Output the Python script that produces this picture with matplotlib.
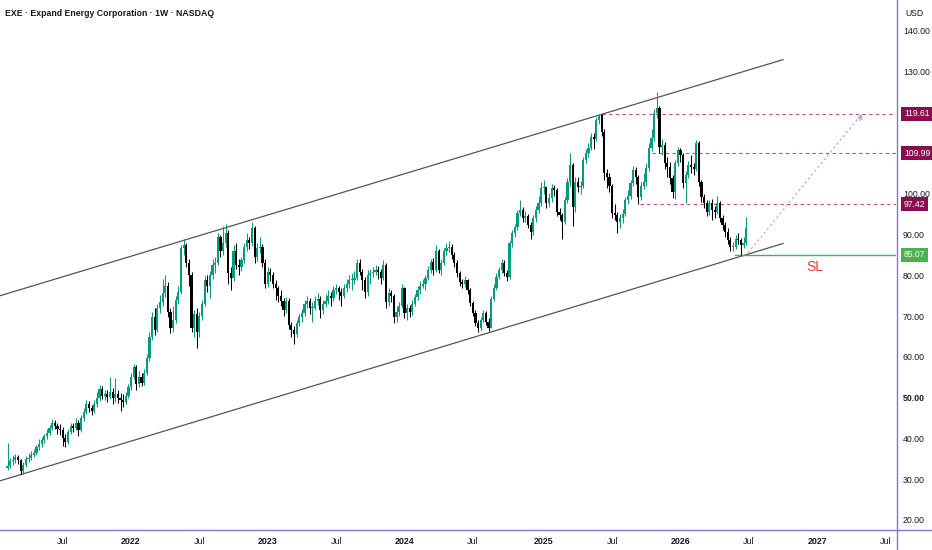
import numpy as np
import pandas as pd
import matplotlib
matplotlib.use('Agg')
import matplotlib.pyplot as plt
import matplotlib.dates as mdates
from matplotlib import transforms
from matplotlib.lines import Line2D

plt.rcParams['font.family'] = ['Liberation Sans', 'DejaVu Sans']

### DATA (weekly candles) ###
week_start = '2021-02-08'

opens = [32.8, 33.3, 34.5, 34.8, 35.5, 34.6, 32.0, 33.5, 35.0, 35.2,
         36.0, 36.5, 37.8, 38.7, 39.5, 40.5, 41.4, 42.5, 43.9, 43.0,
         42.2, 42.0, 40.0, 39.2, 41.5, 43.0, 42.5, 43.9, 42.0, 45.0,
         46.5, 48.5, 47.5, 46.8, 48.5, 49.8, 52.2, 50.5, 51.0, 50.2,
         51.5, 49.8, 51.0, 50.0, 49.5, 49.0, 50.5, 52.5, 55.0, 57.4,
         53.4, 55.0, 53.7, 56.0, 59.8, 65.0, 69.7, 66.5, 71.9, 73.4,
         75.6, 77.5, 71.0, 67.0, 69.0, 74.0, 76.0, 86.6, 87.4, 83.0,
         80.0, 67.2, 70.6,
         66.0, 70.0, 73.0, 78.8, 77.5, 80.0, 82.5, 83.0, 89.4, 86.0,
         88.0, 90.3, 80.5, 79.3, 86.0, 82.5, 82.0, 83.7, 86.9, 88.6,
         88.0, 91.5, 84.4, 86.6, 87.0, 83.0, 78.0, 80.7, 80.0, 78.0,
         76.8, 75.0, 73.8, 71.4, 73.8, 67.7, 66.5, 65.7, 68.2, 69.7,
         70.7, 73.0, 73.8, 71.9, 72.1, 73.8, 74.3, 71.4, 73.0, 73.8,
         75.0, 74.5, 76.3, 76.8, 75.8, 75.0, 76.8, 78.0, 78.8, 78.8,
         79.3, 83.0, 80.7, 78.8, 75.8, 80.0, 80.5, 80.7, 81.2, 80.7,
         79.3, 82.5,
         73.4, 75.6, 75.0, 69.7, 71.0, 72.5, 76.8, 70.7, 72.0, 71.0,
         73.0, 74.6, 76.3, 77.5, 78.0, 79.3, 81.2, 83.2, 81.2, 86.0,
         81.2, 83.0, 86.0, 86.6, 87.0, 85.0, 83.0, 80.5, 78.3, 78.0,
         78.8, 76.3, 73.1, 70.7, 68.4, 67.0, 69.0, 70.7, 68.5, 67.2,
         74.3, 77.0, 79.5, 81.2, 83.0, 80.5, 79.5, 87.9, 90.3, 91.8,
         95.2, 96.0, 94.0, 94.5, 92.3, 90.6, 94.0, 96.0, 97.7, 101.4,
         101.6, 97.7, 99.0, 101.4, 101.0, 95.5, 94.7, 93.0, 98.4, 102.9,
         107.0, 96.8, 103.0,
         101.6, 102.0, 108.3, 110.0, 111.2, 113.9, 113.5, 118.0, 119.3, 115.2,
         105.0, 104.0, 102.0, 95.2, 94.7, 93.0, 94.0, 95.0, 98.4, 99.5,
         102.6, 105.8, 104.0, 99.2, 102.0, 102.9, 106.3, 111.2, 113.7, 119.8,
         121.0, 111.5, 112.0, 107.5, 106.5, 103.8, 100.4, 107.5, 110.7, 109.5,
         102.6, 104.6, 107.0, 106.5, 106.0, 112.4, 102.9, 99.2, 97.7, 95.5,
         97.7, 96.0, 95.5, 97.7, 94.0, 92.3, 90.6, 88.6, 86.9, 87.0,
         89.0, 88.6, 87.4, 88.0]

closes = [33.3, 34.5, 34.8, 35.5, 34.6, 32.0, 33.5, 35.0, 35.2, 36.0,
          36.5, 37.8, 38.7, 39.5, 40.5, 41.4, 42.5, 43.9, 43.0, 42.2,
          42.0, 40.0, 39.2, 41.5, 43.0, 42.5, 43.9, 42.0, 45.0, 46.5,
          48.5, 47.5, 46.8, 48.5, 49.8, 52.2, 50.5, 51.0, 50.2, 51.5,
          49.8, 51.0, 50.0, 49.5, 49.0, 50.5, 52.5, 55.0, 57.4, 53.4,
          55.0, 53.7, 56.0, 59.8, 65.0, 69.7, 66.5, 71.9, 73.4, 75.6,
          77.5, 71.0, 67.0, 69.0, 74.0, 76.0, 86.6, 87.4, 83.0, 80.0,
          67.2, 70.6, 66.0,
          70.0, 73.0, 78.8, 77.5, 80.0, 82.5, 83.0, 89.4, 86.0, 88.0,
          90.3, 80.5, 79.3, 86.0, 82.5, 82.0, 83.7, 86.9, 88.6, 88.0,
          91.5, 84.4, 86.6, 87.0, 83.0, 78.0, 80.7, 80.0, 78.0, 76.8,
          75.0, 73.8, 71.4, 73.8, 67.7, 66.5, 65.7, 68.2, 69.7, 70.7,
          73.0, 73.8, 71.9, 72.1, 73.8, 74.3, 71.4, 73.0, 73.8, 75.0,
          74.5, 76.3, 76.8, 75.8, 75.0, 76.8, 78.0, 78.8, 78.8, 79.3,
          83.0, 80.7, 78.8, 75.8, 80.0, 80.5, 80.7, 81.2, 80.7, 79.3,
          82.5, 73.4,
          75.6, 75.0, 69.7, 71.0, 72.5, 76.8, 70.7, 72.0, 71.0, 73.0,
          74.6, 76.3, 77.5, 78.0, 79.3, 81.2, 83.2, 81.2, 86.0, 81.2,
          83.0, 86.0, 86.6, 87.0, 85.0, 83.0, 80.5, 78.3, 78.0, 78.8,
          76.3, 73.1, 70.7, 68.4, 67.0, 69.0, 70.7, 68.5, 67.2, 74.3,
          77.0, 79.5, 81.2, 83.0, 80.5, 79.5, 87.9, 90.3, 91.8, 95.2,
          96.0, 94.0, 94.5, 92.3, 90.6, 94.0, 96.0, 97.7, 101.4, 101.6,
          97.7, 99.0, 101.4, 101.0, 95.5, 94.7, 93.0, 98.4, 102.9, 107.0,
          96.8, 103.0, 101.6,
          102.0, 108.3, 110.0, 111.2, 113.9, 113.5, 118.0, 119.3, 115.2, 105.0,
          104.0, 102.0, 95.2, 94.7, 93.0, 94.0, 95.0, 98.4, 99.5, 102.6,
          105.8, 104.0, 99.2, 102.0, 102.9, 106.3, 111.2, 113.7, 119.8, 121.0,
          111.5, 112.0, 107.5, 106.5, 103.8, 100.4, 107.5, 110.7, 109.5, 102.6,
          104.6, 107.0, 106.5, 106.0, 112.4, 102.9, 99.2, 97.7, 95.5, 97.7,
          96.0, 95.5, 97.7, 94.0, 92.3, 90.6, 88.6, 86.9, 87.0, 89.0,
          88.6, 87.4, 88.0, 91.5]

highs = [39.0, 35.2, 36.0, 36.2, 36.0, 35.0, 34.2, 35.6, 36.5, 36.8,
         37.5, 38.5, 39.8, 40.4, 41.2, 42.3, 43.2, 44.8, 44.5, 43.8,
         43.5, 42.8, 41.0, 42.2, 43.8, 43.9, 45.0, 44.5, 45.8, 47.5,
         49.5, 49.2, 48.3, 49.4, 51.5, 53.0, 52.8, 52.0, 51.8, 55.0,
         52.3, 54.8, 51.8, 51.2, 50.8, 51.4, 53.4, 56.0, 58.2, 58.0,
         56.5, 56.0, 57.0, 60.8, 66.0, 71.0, 72.0, 73.0, 75.2, 79.0,
         80.0, 78.4, 72.0, 72.5, 75.0, 77.5, 87.5, 89.0, 88.0, 84.0,
         80.8, 71.5, 72.0,
         71.0, 74.0, 79.8, 80.0, 81.0, 84.0, 84.5, 90.5, 90.0, 92.0,
         92.5, 91.0, 82.0, 87.5, 88.0, 84.0, 84.5, 88.0, 90.5, 89.5,
         93.0, 92.0, 88.0, 89.5, 87.8, 84.0, 82.0, 81.8, 80.8, 78.8,
         77.5, 76.5, 74.5, 74.8, 74.5, 68.5, 67.5, 69.0, 70.5, 71.8,
         74.0, 75.0, 74.5, 73.5, 75.0, 75.6, 75.0, 74.0, 75.5, 76.5,
         76.0, 77.5, 78.0, 77.5, 76.8, 78.0, 79.0, 80.0, 80.5, 81.0,
         84.0, 84.0, 81.5, 79.5, 81.2, 81.5, 82.0, 82.5, 82.2, 81.5,
         83.8, 83.0,
         77.0, 76.5, 75.5, 72.5, 73.5, 77.8, 77.2, 73.0, 72.8, 74.0,
         75.5, 77.5, 78.5, 79.2, 80.2, 82.2, 84.0, 84.2, 87.5, 86.5,
         84.0, 86.8, 88.0, 88.5, 87.8, 85.8, 83.8, 81.0, 79.2, 79.8,
         79.2, 77.0, 73.8, 71.5, 69.0, 69.8, 71.5, 71.2, 69.5, 75.0,
         77.8, 80.5, 82.0, 84.0, 83.8, 81.2, 88.5, 91.0, 92.5, 96.0,
         98.5, 96.8, 95.8, 95.0, 93.0, 94.8, 97.0, 99.5, 102.8, 103.5,
         102.0, 100.2, 102.5, 102.2, 101.5, 96.5, 95.2, 99.2, 103.8, 110.0,
         107.5, 104.0, 104.2,
         103.2, 109.0, 111.0, 112.5, 115.0, 115.0, 118.8, 119.6, 119.5, 115.8,
         106.0, 105.2, 102.5, 97.5, 95.5, 95.0, 96.2, 99.2, 101.0, 103.5,
         106.8, 106.5, 104.5, 103.0, 105.0, 107.5, 112.5, 116.0, 120.8, 125.0,
         121.5, 113.5, 112.8, 109.0, 107.8, 104.5, 108.2, 111.5, 111.2, 110.0,
         105.5, 108.0, 109.5, 107.5, 113.2, 113.0, 103.5, 100.0, 98.5, 98.5,
         98.8, 97.0, 99.5, 98.2, 94.8, 93.0, 91.5, 89.5, 88.2, 90.0,
         90.5, 89.2, 89.5, 94.3]

lows = [32.2, 32.8, 33.6, 34.0, 33.8, 31.2, 31.4, 33.0, 34.3, 34.8,
        35.4, 36.0, 37.2, 38.0, 39.0, 39.8, 40.8, 42.0, 42.2, 41.0,
        40.8, 38.2, 38.0, 38.6, 41.0, 41.6, 42.0, 40.5, 41.5, 44.2,
        46.0, 46.5, 45.8, 46.2, 47.8, 49.2, 49.6, 49.4, 49.0, 49.6,
        48.5, 49.0, 48.8, 46.8, 47.8, 48.5, 50.0, 52.0, 54.5, 51.8,
        52.6, 52.8, 53.0, 55.5, 59.0, 64.2, 65.4, 66.0, 70.8, 72.6,
        74.8, 69.8, 65.8, 66.0, 68.2, 73.0, 75.5, 85.0, 82.0, 77.5,
        66.0, 64.8, 62.3,
        65.0, 69.0, 72.5, 76.0, 74.5, 79.0, 80.5, 82.5, 84.5, 85.0,
        87.0, 78.0, 76.5, 78.5, 81.5, 80.0, 81.0, 83.0, 86.0, 86.5,
        87.2, 83.0, 83.5, 85.5, 82.0, 77.0, 77.2, 78.6, 77.0, 74.0,
        73.5, 72.5, 70.0, 70.8, 66.8, 65.0, 63.2, 65.0, 67.5, 68.5,
        70.0, 72.0, 70.5, 68.5, 71.5, 72.8, 69.5, 70.5, 72.2, 73.0,
        72.5, 73.8, 75.5, 74.0, 72.5, 74.5, 76.0, 77.0, 76.5, 78.0,
        78.8, 80.0, 76.5, 74.5, 75.0, 78.0, 79.5, 80.0, 79.0, 78.0,
        78.8, 72.0,
        72.5, 73.5, 68.2, 68.5, 70.0, 72.0, 69.5, 69.0, 69.8, 70.2,
        72.5, 74.0, 75.5, 76.8, 76.5, 78.8, 80.5, 80.0, 80.8, 80.5,
        80.2, 82.5, 85.0, 85.8, 84.0, 82.0, 79.5, 77.5, 76.8, 77.2,
        75.5, 72.5, 70.0, 67.5, 66.2, 66.5, 68.5, 67.8, 66.4, 67.0,
        73.8, 76.5, 79.0, 80.5, 79.8, 78.5, 79.0, 87.0, 89.5, 91.0,
        94.5, 93.0, 93.2, 91.5, 88.8, 90.0, 93.2, 95.2, 97.0, 100.0,
        96.5, 96.8, 98.0, 99.5, 94.5, 93.5, 89.0, 92.5, 97.8, 102.0,
        92.2, 95.5, 100.5,
        100.0, 101.5, 107.5, 109.0, 110.8, 111.0, 113.0, 117.0, 114.2, 103.5,
        101.5, 100.5, 94.0, 93.5, 90.5, 91.5, 92.8, 94.5, 97.5, 98.8,
        101.8, 102.5, 97.5, 98.5, 101.2, 102.0, 105.5, 110.5, 113.0, 118.5,
        110.0, 109.5, 106.0, 104.0, 102.5, 99.0, 98.8, 106.8, 107.8, 101.5,
        97.8, 103.8, 105.2, 104.5, 105.5, 102.0, 98.0, 96.5, 94.5, 94.8,
        93.5, 94.0, 95.0, 93.0, 91.2, 89.5, 87.8, 86.0, 86.0, 86.5,
        87.6, 85.1, 86.8, 87.5]

# axis ticks
tick_dates = ['2021-07-05', '2022-01-03', '2022-07-04', '2023-01-02', '2023-07-03',
              '2024-01-01', '2024-07-01', '2025-01-06', '2025-07-07', '2026-01-05',
              '2026-07-06', '2027-01-04', '2027-07-05']
tick_labels = ['Jul', '2022', 'Jul', '2023', 'Jul', '2024', 'Jul', '2025', 'Jul',
               '2026', 'Jul', '2027', 'Jul']
price_ticks = [20, 30, 40, 50, 60, 70, 80, 90, 100, 110, 120, 130, 140]

# drawings
channel_dates = ['2021-01-19', '2026-10-05']
channel_upper = [75.0, 132.9]
channel_lower = [29.6, 87.8]
target_levels = [119.61, 109.99, 97.42]
target_starts = ['2025-06-10', '2025-10-21', '2025-09-19']
stop_level = 85.07
stop_start = '2026-05-30'
path_dates = ['2026-07-04', '2027-05-03']
path_prices = [85.5, 119.61]
sl_pos = ('2026-12-29', 82.0)

up_color = '#089981'
down_color = '#000000'
text_color = '#131722'
border_color = '#8677cc'
level_color = '#b0325c'
label_bg = '#880e4f'
stop_color = '#4caf50'

### FIGURE ###
fig = plt.figure(figsize=(9.32, 5.5), dpi=100, facecolor='white')
W, H = 932, 550
ax = fig.add_axes([0, (H - 529) / H, 896 / W, 529 / H])
ax.set_facecolor('white')

dates = pd.date_range(week_start, periods=len(closes), freq='7D')
x = mdates.date2num(dates)
o = np.array(opens)
c = np.array(closes)
hi = np.array(highs)
lo = np.array(lows)
is_up = c >= o
cols = np.where(is_up, up_color, down_color)

ax.vlines(x, lo, hi, colors=cols, lw=0.75, zorder=3)
body = np.maximum(np.abs(c - o), 0.3)
ax.bar(x, body, bottom=np.minimum(o, c), width=5.8, color=cols, lw=0, zorder=4)

# channel
cd = mdates.date2num(pd.to_datetime(channel_dates))
ax.plot(cd, channel_upper, color='#555555', lw=0.9, zorder=2)
ax.plot(cd, channel_lower, color='#555555', lw=0.9, zorder=2)

xmin = mdates.date2num(pd.Timestamp('2021-01-19'))
xmax = mdates.date2num(pd.Timestamp('2027-08-02'))

# targets
for lvl, start in zip(target_levels, target_starts):
    s = mdates.date2num(pd.Timestamp(start))
    ax.plot([s, xmax], [lvl, lvl], color=level_color, lw=0.8, ls=(0, (3, 3)), alpha=0.85, zorder=2)

s = mdates.date2num(pd.Timestamp(stop_start))
ax.plot([s, xmax], [stop_level, stop_level], color=stop_color, lw=1.0, zorder=2)

pd_num = mdates.date2num(pd.to_datetime(path_dates))
ax.plot(pd_num, path_prices, color='#b89cc8', lw=0.8, ls=(0, (2, 2.5)), zorder=2)
ax.annotate('', xy=(pd_num[1], path_prices[1]),
            xytext=(pd_num[1] - 6, path_prices[1] - 1.6),
            arrowprops=dict(arrowstyle='->', color='#b89cc8', lw=0.8,
                            shrinkA=0, shrinkB=0, mutation_scale=8))

ax.text(mdates.date2num(pd.Timestamp(sl_pos[0])), sl_pos[1], 'SL',
        color='#f23645', fontsize=10, ha='center', va='center')

ax.set_xlim(xmin, xmax)
ax.set_ylim(17.79, 147.53)

ax.set_xticks(mdates.date2num(pd.to_datetime(tick_dates)))
ax.set_xticklabels(tick_labels)
for lab in ax.get_xticklabels():
    if lab.get_text() != 'Jul':
        lab.set_fontweight('bold')
ax.tick_params(axis='x', length=0, pad=6, labelsize=6.4, colors=text_color)

ax.yaxis.tick_right()
ax.set_yticks(price_ticks)
ax.set_yticklabels(['%.2f' % p for p in price_ticks])
for lab in ax.get_yticklabels():
    if lab.get_text() == '50.00':
        lab.set_fontweight('bold')
ax.tick_params(axis='y', length=0, pad=5, labelsize=6.3, colors=text_color)

for spine in ('top', 'right', 'bottom', 'left'):
    ax.spines[spine].set_visible(False)

# price scale labels
blend = transforms.blended_transform_factory(fig.transFigure, ax.transData)
for lvl in target_levels:
    ax.text(904 / W, lvl, '%.2f' % lvl, transform=blend, color='white', fontsize=6.2,
            ha='left', va='center', clip_on=False, zorder=10,
            bbox=dict(boxstyle='square,pad=0.3', fc=label_bg, ec='none'))
ax.text(904 / W, stop_level, '%.2f' % stop_level, transform=blend, color='white', fontsize=6.2,
        ha='left', va='center', clip_on=False, zorder=10,
        bbox=dict(boxstyle='square,pad=0.3', fc=stop_color, ec='none'))

# panel borders
fig.add_artist(Line2D([896.5 / W, 896.5 / W], [0, 1], color=border_color, lw=1.0))
fig.add_artist(Line2D([0, 1], [(H - 529.5) / H, (H - 529.5) / H], color=border_color, lw=1.0))

fig.text(5 / W, 1 - 13 / H, 'EXE · Expand Energy Corporation · 1W · NASDAQ',
         fontsize=6.3, fontweight='bold', color=text_color, ha='left', va='center')
fig.text(905 / W, 1 - 13 / H, 'USD', fontsize=6.2, color=text_color, ha='left', va='center')

fig.savefig('out.png', dpi=100, facecolor='white')
